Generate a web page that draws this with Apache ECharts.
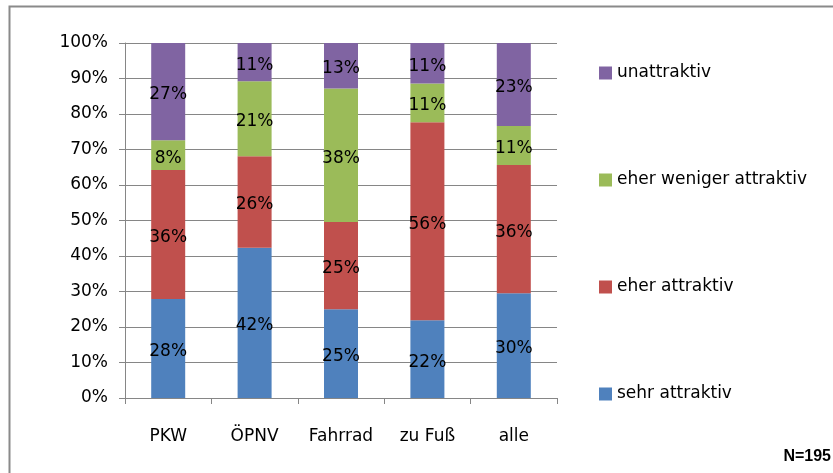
<!DOCTYPE html>
<html>
<head>
<meta charset="utf-8">
<script src="https://cdn.jsdelivr.net/npm/echarts@6/dist/echarts.min.js"></script>
<style>
  html, body { margin: 0; padding: 0; background: #fff; }
</style>
</head>
<body>
<div id="StackChart" style="width: 833px; height: 473px"></div>
<script>
// categories and shares (in %)
const categories = ["PKW", "ÖPNV", "Fahrrad", "zu Fuß", "alle"];
const sehrAttraktiv = [27.9, 42.3, 25.0, 21.9, 29.5];
const eherAttraktiv = [36.3, 25.8, 24.6, 55.8, 36.1];
const eherWeniger = [8.4, 21.1, 37.6, 10.9, 11.0];
const unattraktiv = [27.4, 10.8, 12.8, 11.4, 23.4];
const seriesNames = ["sehr attraktiv", "eher attraktiv", "eher weniger attraktiv", "unattraktiv"];
const yTicks = [0, 10, 20, 30, 40, 50, 60, 70, 80, 90, 100];
const footnote = "N=195";

const font = "DejaVu Sans";
const chart = echarts.init(document.getElementById("StackChart"));

function barSeries(name, data) {
  return {
    name: name,
    type: "bar",
    stack: "Total",
    barWidth: 34,
    label: {
      show: true,
      position: "inside",
      offset: [0, 3],
      color: "#000",
      fontFamily: font,
      fontSize: 17,
      formatter: (p) => Math.round(p.value) + "%",
    },
    data: data,
  };
}

const option = {
  animation: false,
  color: ["#4F81BD", "#C0504D", "#9BBB59", "#8064A2"],
  grid: {
    left: 125,
    top: 43,
    width: 432,
    height: 355,
  },
  legend: {
    orient: "vertical",
    left: 594,
    top: 58,
    itemWidth: 13,
    itemHeight: 13,
    itemGap: 87,
    icon: "rect",
    data: seriesNames.slice().reverse(),
    textStyle: {
      color: "#000",
      fontFamily: font,
      fontSize: 17,
      lineHeight: 20,
    },
  },
  xAxis: {
    type: "category",
    data: categories,
    axisLine: { lineStyle: { color: "#868686" } },
    axisTick: { show: true, length: 6, lineStyle: { color: "#868686" } },
    axisLabel: {
      color: "#000",
      fontFamily: font,
      fontSize: 17,
      margin: 30,
    },
  },
  yAxis: {
    type: "value",
    min: 0,
    max: 100,
    interval: 10,
    axisLine: { show: true, lineStyle: { color: "#868686" } },
    axisTick: { show: true, length: 6, lineStyle: { color: "#868686" } },
    splitLine: { lineStyle: { color: "#868686", width: 1 } },
    axisLabel: {
      color: "#000",
      fontFamily: font,
      fontSize: 17,
      margin: 17,
      padding: [5, 0, 0, 0],
      formatter: (v) => (yTicks.includes(v) ? v + "%" : ""),
    },
  },
  graphic: [
    {
      type: "rect",
      left: 7,
      top: 4,
      shape: { width: 840, height: 468 },
      style: { fill: "none", stroke: "#8a8a8a", lineWidth: 2 },
      silent: true,
    },
    {
      type: "text",
      right: 2,
      top: 449,
      style: {
        text: footnote,
        fill: "#000",
        font: "bold 16px 'Liberation Sans'",
      },
    },
  ],
  series: [
    barSeries(seriesNames[0], sehrAttraktiv),
    barSeries(seriesNames[1], eherAttraktiv),
    barSeries(seriesNames[2], eherWeniger),
    barSeries(seriesNames[3], unattraktiv),
  ],
};
chart.setOption(option, true);
window.onresize = () => {
  chart.resize();
};
</script>
</body>
</html>
